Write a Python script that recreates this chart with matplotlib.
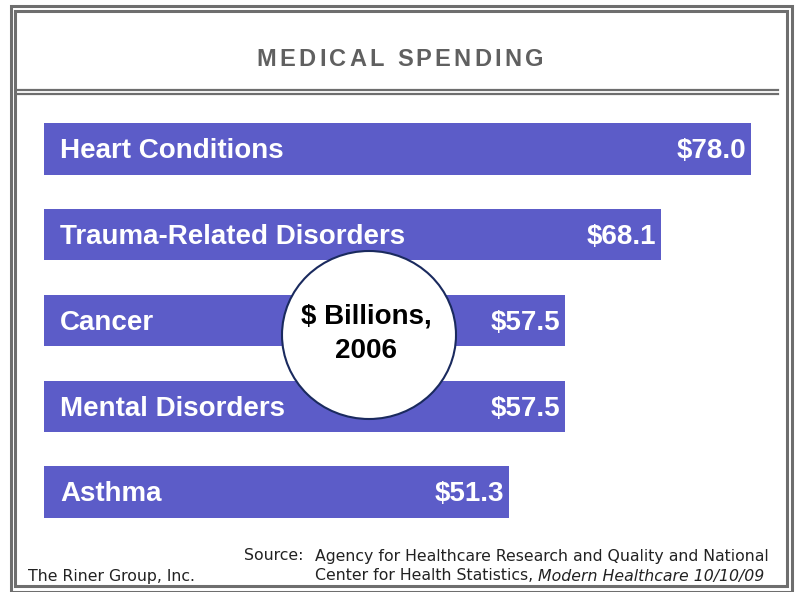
import matplotlib
matplotlib.use('Agg')
import matplotlib.pyplot as plt
from matplotlib.patches import Rectangle, Ellipse
from matplotlib.lines import Line2D

# spending by condition, $ billions (2006)
categories = ['Heart Conditions', 'Trauma-Related Disorders', 'Cancer',
              'Mental Disorders', 'Asthma']
values = [78.0, 68.1, 57.5, 57.5, 51.3]

W, H = 797, 592
bar_color = '#5c5cc8'
border_gray = '#6e6e6e'
plt.rcParams['font.family'] = ['Liberation Sans', 'DejaVu Sans']

fig = plt.figure(figsize=(W / 100, H / 100), dpi=100)
fig.patch.set_facecolor('white')


def px(x, y):
    # pixel (from top-left) -> figure fraction
    return x / W, 1 - y / H


# bar axes: x=0 at 44px, x=78 at 751px; bars from 123px to 518px
x0, _ = px(44, 0)
x1, _ = px(751, 0)
_, yb = px(0, 518)
_, yt = px(0, 123)
ax = fig.add_axes([x0, yb, x1 - x0, yt - yb])
pos = list(range(len(categories)))
ax.barh(pos, values, height=0.6, color=bar_color, edgecolor='none')
ax.set_xlim(0, 78)
ax.set_ylim(len(categories) - 1 + 0.3, -0.3)
ax.axis('off')

for p, cat, v in zip(pos, categories, values):
    ax.text(1.8, p + 0.025, cat, color='white', fontsize=20, fontweight='bold',
            ha='left', va='center')
    ax.text(v - 0.55, p + 0.025, '$%.1f' % v, color='white', fontsize=20,
            fontweight='bold', ha='right', va='center')

# circle label
cx, cy = px(369, 335)
fig.add_artist(Ellipse((cx, cy), 174 / W, 168 / H, transform=fig.transFigure,
                       facecolor='white', edgecolor='#1a2a5e', lw=1.5, zorder=5))
tcx, tcy = px(366, 334)
fig.text(tcx, tcy, '$ Billions,\n2006', ha='center', va='center', fontsize=20,
         fontweight='bold', color='black', linespacing=1.45, zorder=6)

# double frame
for (l, t, r, b) in [(10.5, 5.5, 791.5, 591.5), (15, 11, 787, 586)]:
    fl, fb = px(l, b)
    fr, ft = px(r, t)
    fig.add_artist(Rectangle((fl, fb), fr - fl, ft - fb, transform=fig.transFigure,
                             fill=False, edgecolor=border_gray, lw=2.2))

# title with letter tracking
title = 'MEDICAL SPENDING'
tprops = dict(fontsize=17, fontweight='bold', color='#606060', va='center')
fig.canvas.draw()
renderer = fig.canvas.get_renderer()
probe = fig.text(0, 0, '', **tprops)


def prefix_width(s):
    probe.set_text(s + '|')
    w1 = probe.get_window_extent(renderer).width
    probe.set_text('|')
    return w1 - probe.get_window_extent(renderer).width


total_plain = prefix_width(title)
track = (287 - total_plain) / (len(title) - 1)
start = 400 - 287 / 2
_, ty = px(0, 60)
for i, ch in enumerate(title):
    xx = start + prefix_width(title[:i]) + track * i
    fig.text(xx / W, ty, ch, ha='left', **tprops)
probe.remove()

for yy in (90, 93.5):
    a, y1 = px(18, yy)
    b, _ = px(778, yy)
    fig.add_artist(Line2D([a, b], [y1, y1], transform=fig.transFigure,
                          color=border_gray, lw=1.6))

# footer
foot = dict(fontsize=11.3, color='#222222', ha='left', va='center',
            family='DejaVu Sans')
fx, fy = px(28, 577)
fig.text(fx, fy, 'The Riner Group, Inc.', **foot)
sx, sy1 = px(244, 556)
_, sy2 = px(0, 576)
fig.text(sx, sy1, 'Source:', **foot)
ax2x, _ = px(315, 0)
fig.text(ax2x, sy1, 'Agency for Healthcare Research and Quality and National', **foot)
t = fig.text(ax2x, sy2, 'Center for Health Statistics, ', **foot)
fig.canvas.draw()
bb = t.get_window_extent()
fig.text(bb.x1 / W, sy2, 'Modern Healthcare 10/10/09', style='italic', **foot)

fig.savefig('out.png', dpi=100)
